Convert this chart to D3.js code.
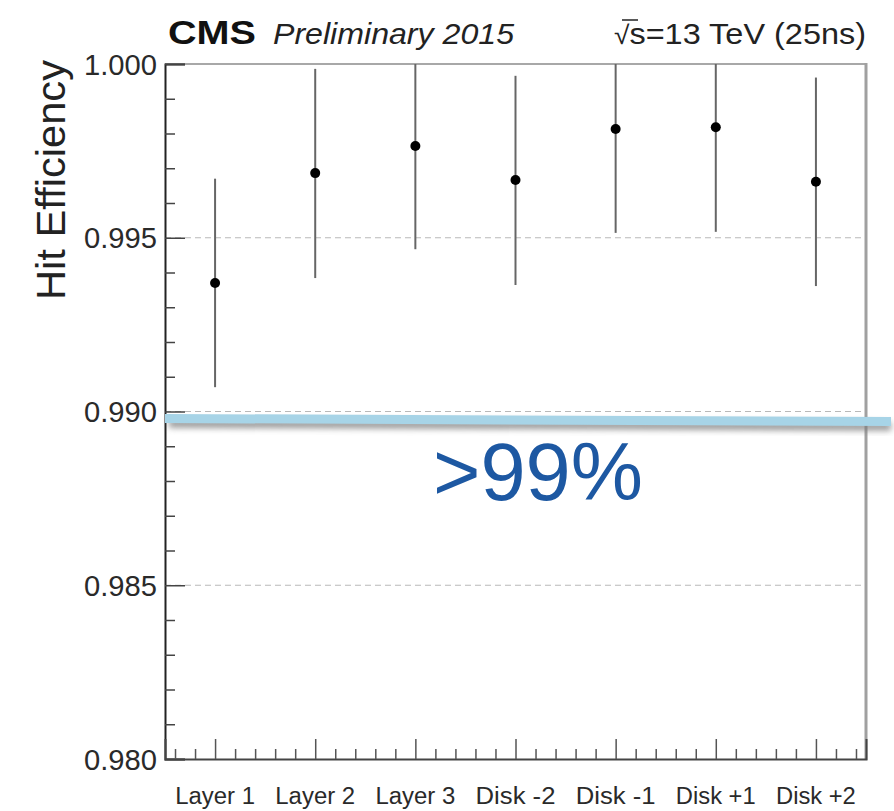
<!DOCTYPE html>
<html>
<head>
<meta charset="utf-8">
<script src="https://cdn.jsdelivr.net/npm/d3@7"></script>
<style>
  html, body { margin: 0; padding: 0; background: #fff; }
  svg { display: block; }
  text { font-family: "Liberation Sans", Arial, Helvetica, sans-serif; }
</style>
</head>
<body>
<svg id="chart" width="894" height="811"></svg>
<script>
// Pixel-detector hit efficiency per layer / disk
const categories = ["Layer 1", "Layer 2", "Layer 3", "Disk -2", "Disk -1", "Disk +1", "Disk +2"];
const efficiency = [0.99370, 0.99686, 0.99764, 0.99666, 0.99813, 0.99818, 0.99661];
const errLow     = [0.00300, 0.00302, 0.00297, 0.00302, 0.00299, 0.00301, 0.00300];
const errHigh    = [0.00300, 0.00300, 0.00300, 0.00300, 0.00300, 0.00300, 0.00300];
const yMajorTicks = [0.980, 0.985, 0.990, 0.995, 1.000];
const yTickLabels = ["0.980", "0.985", "0.990", "0.995", "1.000"];
const gridLevels = [0.985, 0.990, 0.995];
const thresholdLevel = 0.990;
const thresholdLabel = ">99%";

const svg = d3.select("#chart");
const plot = { left: 165, right: 866, top: 64, bottom: 759 };

const x = d3.scaleLinear().domain([0, categories.length]).range([plot.left, plot.right]);
const y = d3.scaleLinear().domain([0.980, 1.000]).range([plot.bottom, plot.top]);

const defs = svg.append("defs");
defs.append("filter").attr("id", "shadow").attr("x", "-5%").attr("y", "-300%").attr("width", "110%").attr("height", "700%")
  .append("feGaussianBlur").attr("stdDeviation", 3);
defs.append("clipPath").attr("id", "plotClip")
  .append("rect").attr("x", plot.left).attr("y", plot.top)
  .attr("width", plot.right - plot.left).attr("height", plot.bottom - plot.top);

// dashed horizontal grid
svg.append("g").selectAll("line").data(gridLevels).join("line")
  .attr("x1", plot.left).attr("x2", plot.right)
  .attr("y1", d => y(d)).attr("y2", d => y(d))
  .attr("stroke", "#b9b9b9").attr("stroke-width", 1.2).attr("stroke-dasharray", "6,4");

// frame: top and right edges
svg.append("line").attr("x1", plot.left).attr("x2", plot.right).attr("y1", plot.top).attr("y2", plot.top)
  .attr("stroke", "#a8a8a8").attr("stroke-width", 2);
svg.append("line").attr("x1", plot.right).attr("x2", plot.right).attr("y1", plot.top - 1).attr("y2", plot.bottom + 1)
  .attr("stroke", "#a0a0a0").attr("stroke-width", 3);

// y axis with major and minor ticks
const yMinor = d3.range(0, 21).map(i => 0.980 + i * 0.001).filter(v => !yMajorTicks.some(m => Math.abs(m - v) < 1e-9));
const yAxis = d3.axisRight(y).tickValues(yMajorTicks).tickSize(20).tickFormat("");
const yAxisG = svg.append("g").attr("transform", `translate(${plot.left},0)`).call(yAxis);
yAxisG.select(".domain").attr("stroke", "#222").attr("stroke-width", 2);
yAxisG.selectAll(".tick line").attr("stroke", "#444").attr("stroke-width", 1.5);
const yMinorG = svg.append("g").attr("transform", `translate(${plot.left},0)`)
  .call(d3.axisRight(y).tickValues(yMinor).tickSize(10).tickFormat(""));
yMinorG.select(".domain").remove();
yMinorG.selectAll(".tick line").attr("stroke", "#444").attr("stroke-width", 1.5);

svg.append("g").selectAll("text").data(yMajorTicks).join("text")
  .attr("x", plot.left - 8).attr("y", d => y(d) + 10.5)
  .attr("text-anchor", "end").attr("font-size", 29).attr("fill", "#2a2a2a")
  .attr("textLength", 73).attr("lengthAdjust", "spacingAndGlyphs")
  .text((d, i) => yTickLabels[i]);

// x axis: ticks every fifth of a bin, taller at bin centres
const xTicks = d3.range(0, categories.length * 5).map(i => 0.1 + i * 0.2);
const xCentres = categories.map((c, i) => i + 0.5);
const xSmall = xTicks.filter(v => !xCentres.some(c => Math.abs(c - v) < 1e-9));
const xAxisG = svg.append("g").attr("transform", `translate(0,${plot.bottom})`)
  .call(d3.axisTop(x).tickValues(xCentres).tickSize(20).tickFormat(""));
xAxisG.select(".domain").attr("stroke", "#444").attr("stroke-width", 2);
xAxisG.selectAll(".tick line").attr("stroke", "#555").attr("stroke-width", 1.5);
const xSmallG = svg.append("g").attr("transform", `translate(0,${plot.bottom})`)
  .call(d3.axisTop(x).tickValues(xSmall).tickSize(10).tickFormat(""));
xSmallG.select(".domain").remove();
xSmallG.selectAll(".tick line").attr("stroke", "#555").attr("stroke-width", 1.5);

svg.append("g").selectAll("text").data(categories).join("text")
  .attr("x", (d, i) => x(i + 0.5)).attr("y", 804)
  .attr("text-anchor", "middle").attr("font-size", 23).attr("fill", "#2a2a2a")
  .attr("textLength", d => d.length * 11.4).attr("lengthAdjust", "spacingAndGlyphs")
  .text(d => d);

// y title
svg.append("text")
  .attr("transform", `translate(65,${plot.top - 4}) rotate(-90)`)
  .attr("text-anchor", "end").attr("font-size", 41).attr("fill", "#222")
  .attr("textLength", 240).attr("lengthAdjust", "spacingAndGlyphs")
  .text("Hit Efficiency");

// error bars and points
const pts = svg.append("g").attr("clip-path", "url(#plotClip)");
pts.selectAll("line.err").data(categories).join("line").attr("class", "err")
  .attr("x1", (d, i) => x(i + 0.5)).attr("x2", (d, i) => x(i + 0.5))
  .attr("y1", (d, i) => y(efficiency[i] - errLow[i]))
  .attr("y2", (d, i) => y(Math.min(1.0, efficiency[i] + errHigh[i])))
  .attr("stroke", "#666").attr("stroke-width", 2);
pts.selectAll("circle").data(categories).join("circle")
  .attr("cx", (d, i) => x(i + 0.5)).attr("cy", (d, i) => y(efficiency[i]))
  .attr("r", 5).attr("fill", "#000");

// threshold highlight band with soft shadow
const bandX0 = plot.left, bandX1 = 891;
const bandY0 = y(thresholdLevel) + 7, bandY1 = y(thresholdLevel) + 10;
svg.append("line")
  .attr("x1", bandX0 + 4).attr("x2", bandX1).attr("y1", bandY0 + 5).attr("y2", bandY1 + 5)
  .attr("stroke", "#7a7a7a").attr("stroke-width", 8).attr("opacity", 0.8)
  .attr("filter", "url(#shadow)");
svg.append("line")
  .attr("x1", bandX0).attr("x2", bandX1).attr("y1", bandY0).attr("y2", bandY1)
  .attr("stroke", "#a7d4e7").attr("stroke-width", 9);

svg.append("text")
  .attr("x", 538).attr("y", 500)
  .attr("text-anchor", "middle")
  .attr("font-family", "'Open Sans', 'Noto Sans', sans-serif")
  .attr("font-size", 82).attr("fill", "#1d58a2")
  .attr("textLength", 210).attr("lengthAdjust", "spacingAndGlyphs")
  .text(thresholdLabel);

// header
svg.append("text").attr("x", 168).attr("y", 44)
  .attr("font-size", 33).attr("font-weight", "bold").attr("fill", "#111")
  .attr("textLength", 88).attr("lengthAdjust", "spacingAndGlyphs")
  .text("CMS");
svg.append("text").attr("x", 273).attr("y", 44)
  .attr("font-size", 30).attr("font-style", "italic").attr("fill", "#222")
  .attr("textLength", 241).attr("lengthAdjust", "spacingAndGlyphs")
  .text("Preliminary 2015");
const energy = svg.append("text").attr("x", 866).attr("y", 44)
  .attr("text-anchor", "end").attr("font-size", 30).attr("fill", "#222")
  .attr("textLength", 252).attr("lengthAdjust", "spacingAndGlyphs");
energy.append("tspan").attr("font-size", 26).text("√");
energy.append("tspan").text("s=13 TeV (25ns)");
// overline of the radical
svg.append("line").attr("x1", 622).attr("x2", 638).attr("y1", 20).attr("y2", 20)
  .attr("stroke", "#222").attr("stroke-width", 1.5);
</script>
</body>
</html>
